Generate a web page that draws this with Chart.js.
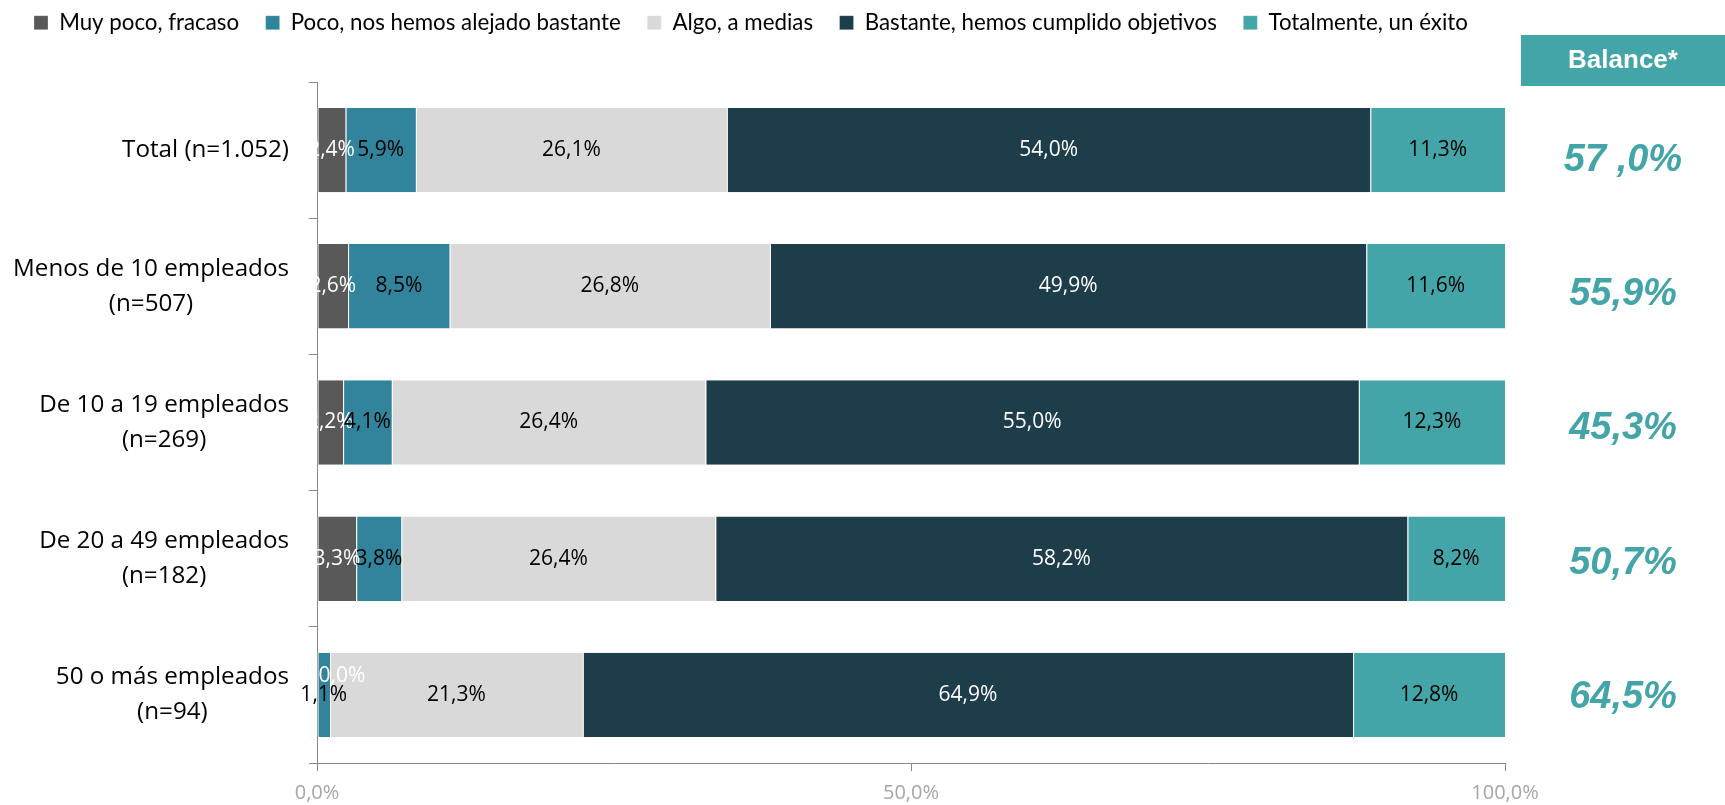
<!DOCTYPE html>
<html>
<head>
<meta charset="utf-8">
<script src="https://cdn.jsdelivr.net/npm/chart.js@4.4.1/dist/chart.umd.min.js"></script>
<style>
  body { margin: 0; background: #fff; }
  #wrap { width: 1725px; height: 805px; }
</style>
</head>
<body>
<div id="wrap"><canvas id="balanceChart" width="1725" height="805"></canvas></div>
<script>
// categories (each entry = lines of the label)
const categories = [
	['Total (n=1.052)'],
	['Menos de 10 empleados', '(n=507)'],
	['De 10 a 19 empleados', '(n=269)'],
	['De 20 a 49 empleados', '(n=182)'],
	['50 o más empleados', '(n=94)']
];
const seriesNames = ['Muy poco, fracaso', 'Poco, nos hemos alejado bastante', 'Algo, a medias', 'Bastante, hemos cumplido objetivos', 'Totalmente, un éxito'];
const muyPoco = [2.4, 2.6, 2.2, 3.3, 0.0];
const poco = [5.9, 8.5, 4.1, 3.8, 1.1];
const algo = [26.1, 26.8, 26.4, 26.4, 21.3];
const bastante = [54.0, 49.9, 55.0, 58.2, 64.9];
const totalmente = [11.3, 11.6, 12.3, 8.2, 12.8];
const balance = ['57 ,0%', '55,9%', '45,3%', '50,7%', '64,5%'];
const xTicks = [0, 50, 100];

const seriesValues = [muyPoco, poco, algo, bastante, totalmente];
const seriesColors = ['#595959', '#31849b', '#d9d9d9', '#1c3d49', '#43a5a7'];
const labelColors = ['#ffffff', '#000000', '#000000', '#ffffff', '#000000'];
const axisColor = '#868686';

function fmt(v) {
	return v.toFixed(1).replace('.', ',') + '%';
}

// 100% stacked: each row is scaled to fill the bar
const rowTotals = categories.map((c, i) => seriesValues.reduce((s, arr) => s + arr[i], 0));

const datasets = seriesNames.map((name, di) => ({
	label: name,
	data: seriesValues[di].map((v, i) => v / rowTotals[i] * 100),
	backgroundColor: seriesColors[di],
	borderColor: '#ffffff',
	borderWidth: { top: 0, bottom: 0, left: 1, right: 0 },
	borderSkipped: false,
	categoryPercentage: 1,
	barPercentage: 0.62
}));

// push the plot area down below the legend
const legendSpacing = {
	id: 'legendSpacing',
	beforeInit(chart) {
		const origFit = chart.legend.fit;
		chart.legend.fit = function() {
			origFit.bind(chart.legend)();
			this.height = 97;
		};
	}
};

// category labels: block right aligned, lines centered inside it
const categoryLabels = {
	id: 'categoryLabels',
	afterDraw(chart) {
		const ctx = chart.ctx;
		const yScale = chart.scales.y;
		const right = yScale.right - 28;
		const lineH = 35;
		ctx.save();
		ctx.font = '24.2px "Open Sans"';
		ctx.fillStyle = '#000';
		ctx.textAlign = 'center';
		ctx.textBaseline = 'middle';
		categories.forEach((lines, i) => {
			const yc = yScale.getPixelForValue(i);
			const w = Math.max(...lines.map(l => ctx.measureText(l).width));
			const xc = right - w / 2;
			const y0 = yc - (lines.length - 1) * lineH / 2;
			lines.forEach((l, k) => ctx.fillText(l, xc, y0 + k * lineH));
		});
		ctx.restore();
	}
};

const valueLabels = {
	id: 'valueLabels',
	afterDatasetsDraw(chart) {
		const ctx = chart.ctx;
		ctx.save();
		ctx.font = '21px "Open Sans"';
		ctx.textAlign = 'center';
		ctx.textBaseline = 'middle';
		chart.data.datasets.forEach((ds, di) => {
			const meta = chart.getDatasetMeta(di);
			meta.data.forEach((bar, i) => {
				const v = seriesValues[di][i];
				let x = (bar.x + bar.base) / 2;
				let y = bar.y;
				if (v === 0) { x += 25; y -= 19; } // empty segment: label pushed aside
				ctx.fillStyle = labelColors[di];
				ctx.fillText(fmt(v), x, y);
			});
		});
		ctx.restore();
	}
};

// Balance* column on the right
const balanceColumn = {
	id: 'balanceColumn',
	afterDraw(chart) {
		const ctx = chart.ctx;
		const yScale = chart.scales.y;
		const left = chart.chartArea.right + 16;
		const right = chart.width;
		const cx = (left + right) / 2;
		ctx.save();
		ctx.fillStyle = '#43a5a7';
		ctx.fillRect(left, 35, right - left, 51);
		ctx.fillStyle = '#fff';
		ctx.font = 'bold 26px "Liberation Sans", Arial';
		ctx.textAlign = 'center';
		ctx.textBaseline = 'middle';
		ctx.fillText('Balance*', cx, 61);
		ctx.fillStyle = '#43a5a7';
		ctx.font = 'italic bold 38px "Liberation Sans", Arial';
		// the balance boxes are spaced a little tighter than the bars
		const yFirst = yScale.getPixelForValue(0) + 10;
		const yLast = yScale.getPixelForValue(balance.length - 1) + 3;
		balance.forEach((b, i) => {
			const y = yFirst + (yLast - yFirst) * i / (balance.length - 1);
			ctx.fillText(b, cx, y);
		});
		ctx.restore();
	}
};

Chart.defaults.font.family = '"Open Sans", sans-serif';

new Chart(document.getElementById('balanceChart'), {
	type: 'bar',
	data: {
		labels: categories.map(c => c.join(' ')),
		datasets: datasets
	},
	options: {
		indexAxis: 'y',
		responsive: false,
		animation: false,
		devicePixelRatio: 1,
		layout: { padding: { top: -15, right: 0, bottom: -10, left: 7.5 } },
		plugins: {
			legend: {
				position: 'top',
				align: 'start',
				labels: {
					boxWidth: 14,
					boxHeight: 14,
					padding: 26.5,
					color: '#000',
					font: { family: 'Lato, "Liberation Sans"', size: 22.3 }
				}
			},
			tooltip: { enabled: false }
		},
		scales: {
			x: {
				stacked: true,
				min: 0,
				max: 100,
				afterBuildTicks(scale) {
					scale.ticks = xTicks.map(v => ({ value: v }));
				},
				grid: { drawOnChartArea: false, drawTicks: true, tickLength: 8, color: axisColor },
				border: { color: axisColor, width: 1 },
				ticks: {
					padding: 10,
					color: '#a6a6a6',
					font: { size: 20 },
					maxRotation: 0,
					callback: v => fmt(v)
				}
			},
			y: {
				stacked: true,
				afterFit(scale) { scale.width = 309.5; },
				grid: { drawOnChartArea: false, drawTicks: true, tickLength: 8, offset: true, color: axisColor },
				border: { color: axisColor, width: 1 },
				ticks: { display: false }
			},
			// empty right-hand axis: keeps room for the Balance* column
			yRight: {
				type: 'category',
				position: 'right',
				display: true,
				afterFit(scale) { scale.width = 220; },
				grid: { display: false },
				border: { display: false },
				ticks: { display: false }
			}
		}
	},
	plugins: [legendSpacing, categoryLabels, valueLabels, balanceColumn]
});
</script>
</body>
</html>
